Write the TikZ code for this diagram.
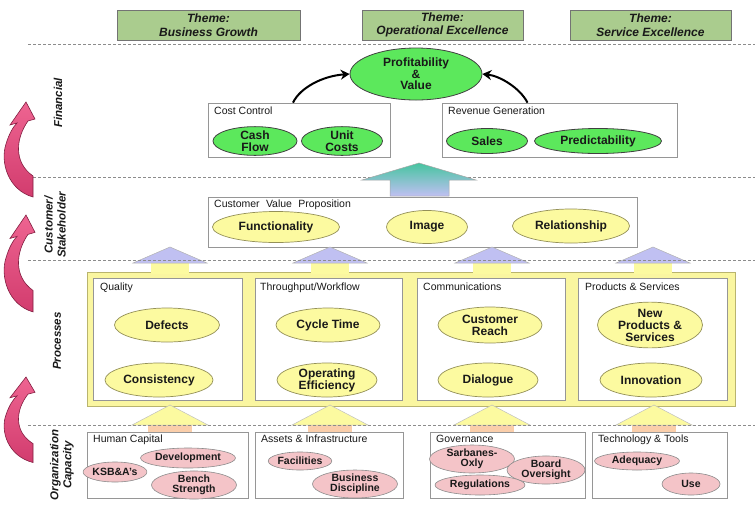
\documentclass[tikz,border=0pt]{standalone}
\usepackage{fontspec}
\setmainfont{Liberation Sans}
\usetikzlibrary{shapes.geometric,arrows.meta}

\definecolor{themegreen}{RGB}{170,204,142}
\definecolor{vividgreen}{RGB}{92,232,92}
\definecolor{paleyellow}{RGB}{252,250,160}
\definecolor{frameyellow}{RGB}{250,246,160}
\definecolor{framerim}{RGB}{185,180,110}
\definecolor{blush}{RGB}{244,196,200}
\definecolor{lavender}{RGB}{192,192,242}
\definecolor{tealtop}{RGB}{70,196,160}
\definecolor{peach}{RGB}{250,206,170}
\definecolor{rosetop}{RGB}{238,100,145}
\definecolor{rosebottom}{RGB}{210,60,110}
\definecolor{roserim}{RGB}{130,30,65}
\definecolor{rulegray}{RGB}{140,140,140}
\definecolor{panelrim}{RGB}{150,150,150}
\definecolor{ink}{RGB}{25,25,25}

\begin{document}
\begin{tikzpicture}[x=1pt,y=-1pt,
  theme/.style={draw=black!55, fill=themegreen, line width=0.8pt, inner sep=0pt, align=center, text=ink,
    minimum height=30pt, font=\bfseries\itshape\fontsize{12}{13.5}\selectfont},
  panel/.style={draw=panelrim, fill=white, line width=0.7pt, inner sep=0pt},
  paneltitle/.style={anchor=north west, inner sep=0pt, text=ink, font=\fontsize{10.5}{12}\selectfont},
  goal/.style={ellipse, draw=black!75, fill=vividgreen, line width=0.8pt, inner sep=0pt, align=center, text=ink,
    font=\bfseries\fontsize{12}{11.5}\selectfont},
  driver/.style={ellipse, draw=framerim!80!black, fill=paleyellow, line width=0.7pt, inner sep=0pt, align=center,
    text=ink, font=\bfseries\fontsize{12}{12}\selectfont},
  enabler/.style={ellipse, draw=black!45, fill=blush, line width=0.6pt, inner sep=0pt, align=center, text=ink,
    font=\bfseries\fontsize{10.5}{10}\selectfont},
  perspective/.style={rotate=90, align=center, inner sep=0pt, text=ink,
    font=\bfseries\itshape\fontsize{11.5}{13}\selectfont},
  sepline/.style={draw=rulegray, line width=0.9pt, dash pattern=on 2.5pt off 2.5pt},
  linkarrow/.style={draw=black, line width=2pt, -{Stealth[length=9pt,width=10pt]}},
  upsmall/.pic={
    \fill[paleyellow] (-19,15) rectangle (19,27);
    \filldraw[fill=lavender, draw=black!30, line width=0.5pt] (-37,16) -- (0,0) -- (37,16) -- cycle;
  },
  upbottom/.pic={
    \fill[peach] (-22,19) rectangle (22,27);
    \filldraw[fill=paleyellow, draw=black!25, line width=0.5pt] (-38,20) -- (0,0) -- (38,20) -- cycle;
  },
  upcurl/.pic={
    \shade[top color=rosetop, bottom color=rosebottom, draw=roserim, line width=0.6pt]
      (26,0) -- (35,17) -- (28,19) .. controls (16,36) and (13,60) .. (33,74) -- (33,95)
      .. controls (8,88) and (0,60) .. (6,42) .. controls (9,32) and (13,25) .. (17,21)
      -- (10,23) -- cycle;
  }
]
\useasboundingbox (0,0) rectangle (755,507);

% themes
\node[theme, minimum width=183pt] (th1) at (208.5,25) {Theme:\\Business Growth};
\node[theme, minimum width=161pt] (th2) at (442.5,25) {Theme:\\Operational Excellence};
\node[theme, minimum width=161pt] (th3) at (650.5,25) {Theme:\\Service Excellence};

% perspective separators
\draw[sepline] (28,44) -- (755,44);
\draw[sepline] (28,177) -- (755,177);

% curved arrows on the left
\pic at (0,102) {upcurl};
\pic[yscale=1.02] at (0,215) {upcurl};
\pic[yscale=0.9] at (0,377) {upcurl};

% perspective labels
\node[perspective] (pfin) at (58,103) {Financial};
\node[perspective] (pcus) at (55,225) {Customer/\\Stakeholder};
\node[perspective] (ppro) at (57,341) {Processes};
\node[perspective] (porg) at (62,465) {Organization\\Capacity};

% financial layer
\node[goal, minimum width=132pt, minimum height=52pt] (prof) at (416,74) {Profitability\\\&\\Value};
\node[panel, minimum width=182pt, minimum height=54pt] (cc) at (299,130) {};
\node[paneltitle] (cct) at (214,107) {Cost Control};
\node[goal, minimum width=84pt, minimum height=25pt] (cash) at (255,141) {Cash\\Flow};
\node[goal, minimum width=81pt, minimum height=25pt] (unit) at (342,141) {Unit\\Costs};
\node[panel, minimum width=235pt, minimum height=54pt] (rg) at (559.5,130) {};
\node[paneltitle] (rgt) at (448,107) {Revenue Generation};
\node[goal, minimum width=81pt, minimum height=25pt] (sales) at (487,141) {Sales};
\node[goal, minimum width=127pt, minimum height=25pt] (pred) at (598,141) {Predictability};

\draw[linkarrow] ([xshift=-6pt]cc.north) .. controls (300,88) and (322,76) .. (prof.west);
\draw[linkarrow] ([xshift=-32pt]rg.north) .. controls (520,88) and (500,76) .. (prof.east);

% big arrow into the financial layer
\shade[top color=tealtop, bottom color=lavender, draw=black!35, line width=0.5pt]
  (390,196) -- (390,180) -- (362,180) -- (419,163) -- (476,180) -- (449,180) -- (449,196) -- cycle;

% customer layer
\node[panel, minimum width=429pt, minimum height=50pt] (cvp) at (422.5,222) {};
\node[paneltitle] (cvpt) at (214,200) {Customer\hspace{0.6em}Value\hspace{0.6em}Proposition};
\node[driver, minimum width=127pt, minimum height=31pt] (func) at (276,227) {Functionality};
\node[driver, minimum width=81pt, minimum height=33pt] (img) at (427,227) {Image};
\node[driver, minimum width=117pt, minimum height=34pt] (rel) at (571,226) {Relationship};

% process layer
\node[draw=framerim, fill=frameyellow, line width=0.8pt, inner sep=0pt, minimum width=648pt, minimum height=134pt] (frame) at (411,339) {};
\node[panel, minimum width=149pt, minimum height=122pt] (qb) at (167.5,339) {};
\node[panel, minimum width=147pt, minimum height=122pt] (tb) at (328.5,339) {};
\node[panel, minimum width=148pt, minimum height=122pt] (cb) at (491,339) {};
\node[panel, minimum width=149pt, minimum height=122pt] (pb) at (652.5,339) {};
\node[paneltitle] (qt) at (100,283) {Quality};
\node[paneltitle] (tt) at (260,283) {Throughput/Workflow};
\node[paneltitle] (ct) at (423,283) {Communications};
\node[paneltitle] (pt) at (585,283) {Products \& Services};

\node[driver, minimum width=105pt, minimum height=34pt] (defects) at (167,325) {Defects};
\node[driver, minimum width=108pt, minimum height=34pt] (consist) at (159,380) {Consistency};
\node[driver, minimum width=104pt, minimum height=34pt] (cycle) at (328,325) {Cycle Time};
\node[driver, minimum width=100pt, minimum height=34pt] (opeff) at (327,380) {Operating\\Efficiency};
\node[driver, minimum width=104pt, minimum height=36pt] (reach) at (490,325) {Customer\\Reach};
\node[driver, minimum width=100pt, minimum height=34pt] (dialog) at (488,380) {Dialogue};
\node[driver, minimum width=105pt, minimum height=36pt] (newps) at (650,325) {New\\Products \&\\Services};
\node[driver, minimum width=102pt, minimum height=34pt] (innov) at (651,380) {Innovation};

% arrows from processes to customer
\pic at (170,247) {upsmall};
\pic at (330,247) {upsmall};
\pic at (492,247) {upsmall};
\pic at (653,247) {upsmall};
\draw[sepline] (28,260) -- (755,260);

% organization capacity layer
\pic at (170,405) {upbottom};
\pic at (330,405) {upbottom};
\pic at (492,405) {upbottom};
\pic at (654,405) {upbottom};
\draw[sepline] (28,425) -- (755,425);

\node[panel, minimum width=161pt, minimum height=66pt] (hc) at (167.5,465) {};
\node[panel, minimum width=148pt, minimum height=66pt] (ai) at (329,465) {};
\node[panel, minimum width=155pt, minimum height=66pt] (gv) at (507.5,465) {};
\node[panel, minimum width=135pt, minimum height=66pt] (tk) at (659.5,465) {};
\node[paneltitle] (hct) at (93,435) {Human Capital};
\node[paneltitle] (ait) at (261,435) {Assets \& Infrastructure};
\node[paneltitle] (gvt) at (436,435) {Governance};
\node[paneltitle] (tkt) at (598,435) {Technology \& Tools};

\node[enabler, minimum width=52pt, minimum height=20pt] (ksba) at (115,472) {KSB\&A's};
\node[enabler, minimum width=95pt, minimum height=20pt] (dev) at (188,458) {Development};
\node[enabler, minimum width=85pt, minimum height=24pt] (bench) at (194,485) {Bench\\Strength};
\node[enabler, minimum width=62pt, minimum height=18pt] (fac) at (300,461) {Facilities};
\node[enabler, minimum width=85pt, minimum height=24pt] (bdisc) at (355,484) {Business\\Discipline};
\node[enabler, minimum width=85pt, minimum height=25pt] (sox) at (472,459) {Sarbanes-\\Oxly};
\node[enabler, minimum width=78pt, minimum height=24pt] (board) at (546,470) {Board\\Oversight};
\node[enabler, minimum width=90pt, minimum height=20pt] (regs) at (480,485) {Regulations};
\node[enabler, minimum width=85pt, minimum height=18pt] (adeq) at (637,461) {Adequacy};
\node[enabler, minimum width=58pt, minimum height=22pt] (use) at (691,484) {Use};
\end{tikzpicture}
\end{document}
